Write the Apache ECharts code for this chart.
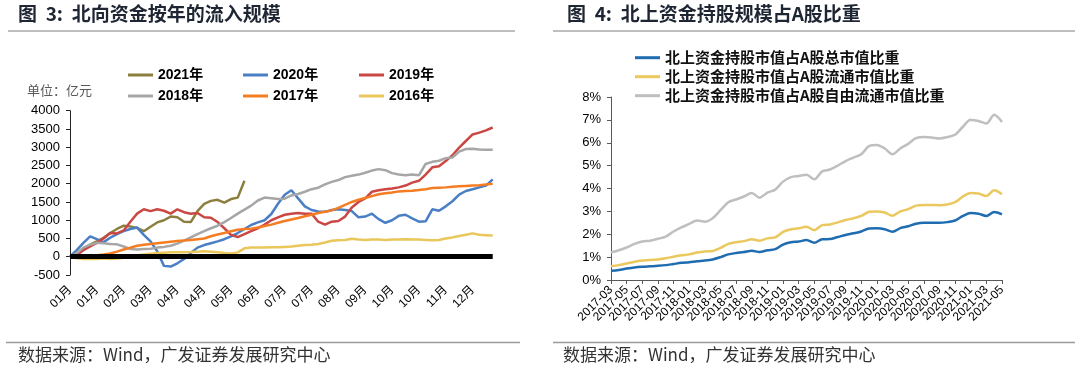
<!DOCTYPE html>
<html><head><meta charset="utf-8">
<script src="https://cdn.jsdelivr.net/npm/echarts@6/dist/echarts.min.js"></script>
<style>html,body{margin:0;padding:0;background:#fff}#c{width:1080px;height:373px}</style>
</head><body><div id="c"></div><script>
// ---- Left chart: 北向资金按年的流入规模 (亿元), sampled every ~4 trading days ----
const monthLabels = ['01月','01月','02月','03月','04月','04月','05月','06月','07月','07月','08月','09月','10月','10月','11月','12月'];
const yearNames = ['2021年','2020年','2019年','2018年','2017年','2016年'];
const s2021 = [0,80,200,330,420,520,650,760,850,830,790,700,820,940,1000,1100,1080,960,950,1250,1450,1530,1560,1480,1580,1620,2080];
const s2020 = [0,180,380,560,480,400,520,620,700,760,800,600,420,150,-250,-270,-180,-60,100,250,320,370,420,480,560,650,760,870,940,1000,1170,1450,1700,1820,1600,1380,1280,1240,1230,1280,1300,1280,1250,1080,1100,1180,1030,930,1000,1120,1150,1050,960,970,1300,1260,1380,1520,1700,1800,1850,1900,1950,2120];
const s2019 = [0,50,180,280,380,500,650,640,720,960,1180,1300,1250,1300,1260,1180,1300,1220,1180,1200,1080,1070,950,780,600,540,620,700,780,880,1000,1080,1150,1180,1200,1180,1180,960,880,960,980,1100,1350,1500,1600,1780,1820,1850,1870,1900,1950,2030,2080,2250,2450,2480,2620,2780,2990,3170,3350,3400,3460,3540];
const s2018 = [0,100,250,330,380,370,350,340,280,210,200,210,220,250,270,300,360,440,530,620,700,780,850,950,1060,1180,1290,1400,1540,1620,1600,1580,1590,1680,1720,1780,1850,1890,1980,2050,2100,2180,2220,2250,2300,2360,2400,2370,2290,2250,2230,2250,2230,2540,2600,2630,2700,2720,2880,2950,2960,2940,2930,2930];
const s2017 = [0,-30,-20,10,40,60,90,140,200,250,300,330,350,370,390,410,430,445,460,480,500,560,610,650,700,740,760,770,800,840,880,930,980,1020,1060,1110,1150,1200,1230,1270,1340,1420,1500,1560,1610,1660,1710,1740,1760,1790,1800,1810,1830,1850,1880,1890,1900,1920,1930,1940,1950,1960,1980,2000];
const s2016 = [0,-40,-60,-60,-60,-50,-60,-50,-30,0,40,60,80,100,110,120,120,125,130,140,150,140,120,100,90,120,230,250,255,250,260,260,270,280,300,320,330,350,390,440,450,460,490,470,460,470,470,460,470,470,480,470,470,460,450,460,500,530,570,600,640,600,590,580];
const leftYTicks = {min:-500, max:4000, step:500};

// ---- Right chart: 北上资金持股规模占A股比重 (%), monthly ----
const rightMonths = ['2017-03','2017-04','2017-05','2017-06','2017-07','2017-08','2017-09','2017-10','2017-11','2017-12',
 '2018-01','2018-02','2018-03','2018-04','2018-05','2018-06','2018-07','2018-08','2018-09','2018-10','2018-11','2018-12',
 '2019-01','2019-02','2019-03','2019-04','2019-05','2019-06','2019-07','2019-08','2019-09','2019-10','2019-11','2019-12',
 '2020-01','2020-02','2020-03','2020-04','2020-05','2020-06','2020-07','2020-08','2020-09','2020-10','2020-11','2020-12',
 '2021-01','2021-02','2021-03','2021-04','2021-05'];
const rightNames = ['北上资金持股市值占A股总市值比重','北上资金持股市值占A股流通市值比重','北上资金持股市值占A股自由流通市值比重'];
const totalShare = [0.4,0.44,0.5,0.55,0.58,0.6,0.62,0.65,0.7,0.75,0.78,0.82,0.85,0.9,1.0,1.12,1.18,1.22,1.28,1.22,1.3,1.35,1.55,1.65,1.68,1.75,1.63,1.78,1.79,1.88,1.97,2.04,2.12,2.25,2.26,2.22,2.11,2.27,2.35,2.46,2.5,2.5,2.5,2.53,2.6,2.8,2.93,2.9,2.8,2.97,2.87];
const floatShare = [0.6,0.65,0.72,0.8,0.85,0.87,0.9,0.95,1.02,1.08,1.12,1.2,1.25,1.27,1.4,1.58,1.65,1.7,1.78,1.72,1.82,1.86,2.1,2.22,2.26,2.33,2.18,2.4,2.43,2.52,2.62,2.7,2.8,2.98,3.0,2.95,2.81,3.0,3.1,3.25,3.28,3.28,3.27,3.3,3.4,3.65,3.8,3.78,3.67,3.92,3.75];
const freeFloatShare = [1.2,1.3,1.42,1.58,1.68,1.72,1.8,1.9,2.12,2.3,2.45,2.6,2.55,2.7,3.05,3.4,3.52,3.65,3.8,3.6,3.82,3.95,4.3,4.5,4.55,4.6,4.4,4.75,4.83,5.0,5.2,5.35,5.5,5.85,5.9,5.75,5.5,5.75,5.95,6.2,6.25,6.23,6.19,6.25,6.35,6.7,7.0,6.95,6.84,7.22,6.91];

const FONT = 'Arial, "Liberation Sans", "Noto Sans CJK SC", sans-serif';
const CJK = '"Noto Sans CJK SC", "Noto Sans", sans-serif';
const dayCats = s2019.map((_, i) => (i % 4 === 0 ? monthLabels[i / 4] : ''));
const yearColors = ['#8C7F3E','#4A7FC6','#CB4744','#A6A6A6','#F47C22','#E9C75A'];
const yearData = [s2021, s2020, s2019, s2018, s2017, s2016];
const rightColors = ['#1F6CB0','#EBC85E','#BFBFBF'];
const rightData = [totalShare, floatShare, freeFloatShare];

const series = [];
yearNames.forEach((n, k) => {
  const s = {name:n, type:'line', xAxisIndex:0, yAxisIndex:0, data:yearData[k], symbol:'none',
    lineStyle:{width:2.5, color:yearColors[k]}, itemStyle:{color:yearColors[k]}};
  if (k === yearNames.length - 1) {
    s.markLine = {silent:true, symbol:'none', label:{show:false}, lineStyle:{color:'#000', width:5, type:'solid'}, data:[{yAxis:0}]};
  }
  series.push(s);
});
rightNames.forEach((n, k) => {
  series.push({name:n, type:'line', xAxisIndex:1, yAxisIndex:1, data:rightData[k], symbol:'none', smooth:0.3,
    lineStyle:{width:2.5, color:rightColors[k]}, itemStyle:{color:rightColors[k]}, z: 3 - k});
});

const legendBase = {orient:'vertical', itemWidth:25, itemHeight:3, icon:'rect', itemGap:5,
  textStyle:{fontSize:14, fontWeight:'bold', color:'#000', fontFamily:FONT, lineHeight:16}};

const option = {
  animation:false,
  backgroundColor:'#fff',
  grid:[{left:70, top:110.7, width:422.7, height:164.3},{left:611, top:97, width:391, height:183}],
  xAxis:[
    {gridIndex:0, type:'category', boundaryGap:false, data:dayCats,
     axisLine:{show:false}, axisTick:{show:false}, splitLine:{show:false},
     axisLabel:{interval:0, rotate:45, fontSize:12, color:'#000', margin:13, fontFamily:FONT, hideOverlap:false}},
    {gridIndex:1, type:'category', boundaryGap:false, data:rightMonths,
     axisLine:{lineStyle:{color:'#595959', width:1}},
     axisTick:{interval:1, length:4, lineStyle:{color:'#595959'}}, splitLine:{show:false},
     axisLabel:{interval:0, rotate:45, fontSize:12, color:'#000', margin:8, fontFamily:FONT, hideOverlap:false,
       formatter:(v, i) => (i % 2 === 0 ? v : '')}}
  ],
  yAxis:[
    {gridIndex:0, type:'value', min:leftYTicks.min, max:leftYTicks.max, interval:leftYTicks.step,
     axisLine:{show:true, lineStyle:{color:'#222'}}, axisTick:{show:true, length:4, lineStyle:{color:'#222'}},
     splitLine:{show:false}, axisLabel:{fontSize:13, color:'#000', margin:10, fontFamily:FONT, formatter:(v) => String(v)}},
    {gridIndex:1, type:'value', min:0, max:8, interval:1,
     axisLine:{show:true, lineStyle:{color:'#595959'}}, axisTick:{show:true, length:4, lineStyle:{color:'#595959'}},
     splitLine:{show:false}, axisLabel:{fontSize:13, color:'#000', margin:10, fontFamily:FONT, formatter:(v) => v + '%'}}
  ],
  legend:[
    Object.assign({}, legendBase, {data:[yearNames[0], yearNames[3]], left:123, top:62}),
    Object.assign({}, legendBase, {data:[yearNames[1], yearNames[4]], left:238, top:62}),
    Object.assign({}, legendBase, {data:[yearNames[2], yearNames[5]], left:354, top:62}),
    Object.assign({}, legendBase, {data:rightNames, left:630, top:44.7, itemGap:3,
      textStyle:{fontSize:15, fontWeight:'bold', color:'#111', fontFamily:CJK, lineHeight:16}})
  ],
  graphic:[
    {type:'text', left:18, top:4, style:{text:'图  3:  北向资金按年的流入规模', font:'bold 19px ' + CJK, fill:'#1f2633'}},
    {type:'line', shape:{x1:8, y1:31, x2:515, y2:31}, style:{stroke:'#7f7f7f', lineWidth:1}},
    {type:'text', left:27, top:84, style:{text:'单位：亿元', font:'13px ' + CJK, fill:'#595959'}},
    {type:'line', shape:{x1:6, y1:342.5, x2:520, y2:342.5}, style:{stroke:'#9a9a9a', lineWidth:1.5}},
    {type:'text', left:18, top:346, style:{text:'数据来源：Wind，广发证券发展研究中心', font:'17px ' + CJK, fill:'#333'}},

    {type:'text', left:567, top:4, style:{text:'图  4:  北上资金持股规模占A股比重', font:'bold 19px ' + CJK, fill:'#1f2633'}},
    {type:'line', shape:{x1:553, y1:31, x2:1075, y2:31}, style:{stroke:'#7f7f7f', lineWidth:1}},
    {type:'line', shape:{x1:553, y1:342.5, x2:1075, y2:342.5}, style:{stroke:'#9a9a9a', lineWidth:1.5}},
    {type:'text', left:563, top:346, style:{text:'数据来源：Wind，广发证券发展研究中心', font:'17px ' + CJK, fill:'#333'}}
  ],
  series: series
};
const chart = echarts.init(document.getElementById('c'), null, {renderer:'canvas'});
chart.setOption(option);
</script></body></html>
